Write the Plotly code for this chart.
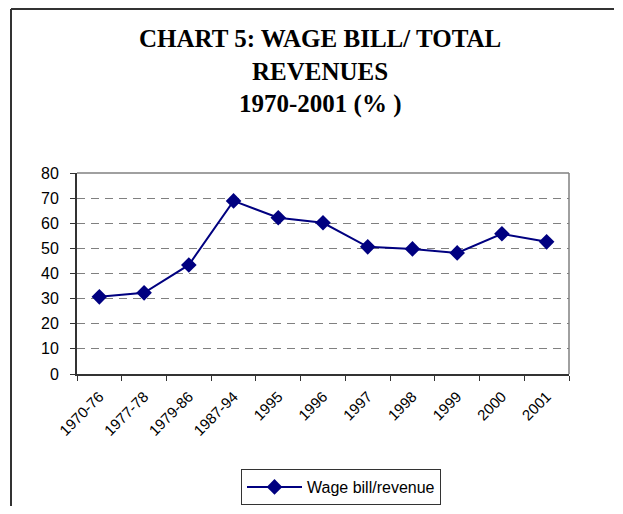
import plotly.graph_objects as go

categories = ["1970-76", "1977-78", "1979-86", "1987-94", "1995", "1996",
              "1997", "1998", "1999", "2000", "2001"]
wage_bill_revenue = [30.7, 32.3, 43.4, 68.9, 62.2, 60.2, 50.6, 49.8, 48.2, 55.8, 52.6]
y_ticks = [0, 10, 20, 30, 40, 50, 60, 70, 80]
title_lines = ["CHART 5: WAGE BILL/ TOTAL", "REVENUES", "1970-2001 (% )"]

OFF = 8  # page offset of the figure inside the browser window
W, H = 606, 498
L, R, T, B = 77 - OFF, 569 - OFF, 173 - OFF, 374 - OFF  # plot area edges (figure px)

def px(x):
    return (x - OFF - L) / (R - L)

def py(y):
    return (B - (y - OFF)) / (B - T)

fig = go.Figure()
fig.add_trace(go.Scatter(
    x=categories, y=wage_bill_revenue, mode="lines+markers",
    name="Wage bill/revenue",
    line=dict(color="#000080", width=2),
    marker=dict(symbol="diamond", size=12, color="#000080"),
))

shapes = [
    # outer chart border (left and top visible)
    dict(type="line", xref="paper", yref="paper", x0=px(11), x1=px(11),
         y0=py(9), y1=py(530), line=dict(color="#333333", width=2)),
    dict(type="line", xref="paper", yref="paper", x0=px(11), x1=px(W + OFF),
         y0=py(9), y1=py(9), line=dict(color="#333333", width=2)),
    # plot area border (top, right gray)
    dict(type="line", xref="paper", yref="paper", x0=0, x1=1, y0=1, y1=1,
         line=dict(color="#808080", width=1.5)),
    dict(type="line", xref="paper", yref="paper", x0=1, x1=1, y0=0, y1=1,
         line=dict(color="#808080", width=1.5)),
]

annotations = []
for txt, yc in zip(title_lines, [38, 71, 104]):
    annotations.append(dict(
        text="<b>" + txt + "</b>", xref="paper", yref="paper",
        x=px(320), y=py(yc), xanchor="center", yanchor="middle",
        showarrow=False,
        font=dict(family="Liberation Serif", size=25, color="black"),
    ))

fig.update_layout(
    width=W, height=H,
    margin=dict(l=L, r=W - R, t=T, b=H - B, autoexpand=False),
    paper_bgcolor="white", plot_bgcolor="white",
    shapes=shapes, annotations=annotations,
    showlegend=True,
    legend=dict(
        x=px(341), y=py(487), xanchor="center", yanchor="middle",
        bordercolor="#333333", borderwidth=1, itemwidth=55,
        font=dict(family="Liberation Sans", size=16, color="black"),
        bgcolor="white",
    ),
    xaxis=dict(
        type="category", tickson="boundaries", ticks="outside", ticklen=5,
        tickcolor="#333333", showline=True, linecolor="#333333", linewidth=2,
        tickangle=-45, showgrid=False, automargin=False, ticklabelstandoff=6,
        tickfont=dict(family="Liberation Sans", size=15, color="black"),
        range=[-0.5, len(categories) - 0.5],
    ),
    yaxis=dict(
        range=[0, 80], tickvals=y_ticks, ticks="outside", ticklen=5,
        tickcolor="#333333", showline=True, linecolor="#333333", linewidth=2,
        showgrid=True, gridcolor="#808080", griddash="8px,6px", gridwidth=1,
        zeroline=False, ticklabelstandoff=8, automargin=False,
        tickfont=dict(family="Liberation Sans", size=16, color="black"),
    ),
)

fig.write_html("out.html")
